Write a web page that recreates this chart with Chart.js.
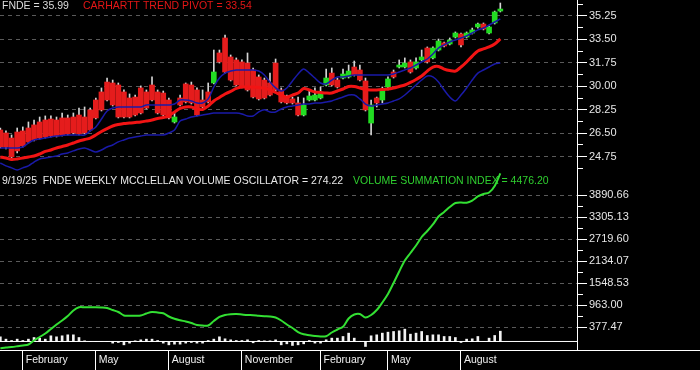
<!DOCTYPE html>
<html><head><meta charset="utf-8">
<script src="https://cdn.jsdelivr.net/npm/chart.js@4.4.1/dist/chart.umd.min.js"></script>
<style>html,body{margin:0;padding:0;background:#000}canvas{display:block}</style>
</head><body>
<canvas id="c" width="700" height="370"></canvas>
<script>
// ── weekly bars, week 0 = 5 Jan 2024 ... week 89 = 19 Sep 2025 ──
var opn=[26.74,26.52,26.14,26.59,26.67,26.89,27.12,27.34,27.49,27.56, 27.49,27.64,27.64,27.71,27.86,27.71,28.24,28.98,29.58,30.32, 30.25,30.10,29.58,29.13,29.20,29.88,29.58,30.10,29.58,29.50,
 28.98,27.34,29.13,30.18,30.10,29.73,28.98,29.58,30.25,32.49, 33.61,32.19,31.97,31.82,31.74,31.22,30.70,30.47,30.25,31.74, 29.73,29.20,29.06,28.76,27.86,28.98,28.98,29.13,30.10,30.99,
 30.47,30.62,30.70,31.44,31.22,30.40,27.26,29.13,28.98,29.95, 31.07,31.44,31.44,31.82,31.37,31.97,32.86,32.12,32.71,33.24, 33.16,33.68,33.91,33.68,33.98,34.43,34.65,33.98,34.73,35.62];
var hi=[26.89,26.67,26.37,26.89,26.97,27.34,27.49,27.71,27.79,27.79, 27.71,28.01,27.86,28.01,28.38,28.46,28.38,29.13,29.88,30.62, 30.47,30.25,29.73,29.43,29.35,30.03,29.73,30.70,29.73,29.65,
 29.13,28.01,29.35,30.25,30.32,29.88,29.73,30.25,32.71,32.71, 33.83,32.34,32.12,31.97,32.49,31.37,30.85,30.62,30.99,32.04, 29.88,29.35,29.20,29.20,29.13,29.73,29.88,29.95,31.29,31.37,
 30.62,31.29,31.59,31.89,31.59,30.62,28.98,29.20,29.95,30.70, 31.22,31.97,32.12,31.97,32.12,32.71,32.94,32.94,33.53,33.31, 33.61,34.06,33.98,34.06,34.35,34.73,34.73,34.50,35.62,36.22];
var lo=[25.40,25.32,24.50,25.03,25.47,25.77,25.92,26.07,26.14,26.22, 26.22,26.29,26.37,26.44,26.37,26.44,26.67,27.56,28.16,28.91, 28.53,27.64,27.64,27.64,27.79,27.94,28.31,28.91,27.94,27.79,
 27.56,27.26,28.53,28.76,28.68,27.79,28.38,28.76,30.18,31.74, 30.99,30.40,30.03,29.88,29.65,29.13,28.98,29.06,29.28,29.65, 28.76,28.68,28.68,27.79,27.79,28.91,28.91,29.06,30.03,30.03,
 29.88,30.55,30.62,30.77,30.40,28.16,26.37,28.46,28.76,29.73, 30.62,31.37,31.37,30.99,31.29,31.89,31.74,32.04,32.64,32.94, 33.09,33.61,32.94,33.61,33.91,34.35,34.21,33.91,34.65,35.55];
var cls=[25.47,25.47,24.73,25.18,25.55,25.85,26.00,26.14,26.22,26.29, 26.29,26.37,26.44,26.52,26.44,26.52,26.74,27.64,28.24,28.98, 28.61,27.71,27.71,27.71,27.86,28.01,28.38,28.98,28.01,27.86,
 27.64,27.71,28.61,28.83,28.76,27.86,28.46,28.83,31.07,31.82, 31.07,30.47,30.10,29.95,29.73,29.20,29.06,29.13,29.35,29.73, 28.83,28.76,28.76,27.86,28.61,29.28,29.35,29.50,30.62,30.10,
 29.95,30.92,31.14,30.85,30.47,28.24,28.61,28.76,29.73,30.55, 30.70,31.59,31.74,31.07,31.82,32.19,31.82,32.86,33.38,33.01, 33.46,33.98,33.09,33.98,34.21,34.65,34.28,34.43,35.55,35.77];
var pivot=[24.73,24.65,24.54,24.58,24.65,24.73,24.80,24.95,25.14,25.25, 25.40,25.51,25.62,25.77,25.92,26.03,26.14,26.37,26.63,26.85, 27.04,27.15,27.23,27.26,27.30,27.34,27.41,27.49,27.60,27.67,
 27.82,28.08,28.35,28.46,28.46,28.31,28.27,28.53,28.91,29.17, 29.43,29.62,29.84,29.95,29.95,29.95,29.91,29.88,29.73,29.54, 29.35,29.20,29.35,29.50,29.84,29.73,29.58,29.54,29.50,29.50,
 29.65,29.80,29.99,29.99,29.88,29.76,29.73,29.73,29.76,29.80, 29.88,29.99,30.10,30.29,30.51,30.77,31.14,31.44,31.48,31.29, 31.18,31.14,31.44,31.82,32.26,32.64,32.79,32.94,33.16,33.54];
var bandHi=[25.40,25.40,25.40,25.40,25.47,25.77,26.00,26.07,26.14,26.22, 26.29,26.33,26.37,26.37,26.37,26.37,26.67,26.97,27.56,28.16, 28.38,28.46,28.46,28.46,28.46,28.46,28.61,28.61,28.61,28.61,
 28.61,28.68,28.98,28.98,28.91,28.76,28.76,29.06,29.95,30.62, 30.99,31.14,31.22,31.22,31.22,31.22,31.14,30.85,30.32,29.88, 29.65,29.88,30.40,30.92,31.29,30.99,30.62,30.25,30.18,30.47,
 30.70,30.70,30.77,30.85,30.85,30.85,30.85,30.85,30.85,30.85, 30.92,31.07,31.22,31.37,31.59,31.82,32.04,32.41,32.86,33.09, 33.31,33.46,33.61,33.76,33.98,34.21,34.35,34.58,34.80,35.03];
var bandLo=[24.28,24.06,23.91,23.76,23.91,24.06,24.35,24.58,24.65,24.73, 24.80,24.95,25.03,25.18,25.32,25.40,25.25,25.10,25.25,25.47, 25.62,25.85,26.00,26.14,26.22,26.29,26.37,26.37,26.37,26.37,
 26.52,26.74,27.41,27.56,27.71,27.79,27.86,27.94,28.01,28.01, 28.01,28.01,28.01,27.94,27.79,27.79,28.09,28.25,28.09,28.09, 28.31,28.46,28.53,28.61,28.68,28.68,28.76,28.76,28.83,28.91,
 29.06,29.20,29.35,29.35,29.06,28.68,28.53,28.61,28.68,28.76, 28.91,29.06,29.35,29.73,30.10,30.47,30.77,30.70,30.32,29.73, 29.20,28.91,29.35,29.88,30.47,30.99,31.22,31.44,31.67,31.74];
var vsi=[-181,-160,-147,-128,-107,-80,26,119,213,332, 452,559,678,825,910,910,910,910,905,891, 838,785,692,686,686,692,745,785,771,750,
 665,604,564,532,492,439,425,425,545,652, 705,726,732,718,705,700,684,673,665,638, 559,452,359,252,191,167,146,133,141,239,
 319,393,612,718,732,638,705,838,1038,1264, 1557,1863,2155,2355,2555,2781,2941,3114,3326,3446, 3579,3686,3699,3694,3752,3859,3925,3965,4138,4476];
var osc=[124,62,27,62,27,62,106,89,62,151, 124,151,177,177,106,18,4,-3,2,-4, -44,-27,-89,-44,18,44,62,62,27,-44,
 -89,-71,-71,-44,-27,-44,-44,27,62,124, 71,44,27,27,44,-35,27,18,18,44, -89,-62,-106,-89,-62,27,-44,-44,44,89,
 89,133,222,89,5,-133,151,177,222,248, 266,284,328,195,222,266,160,177,177,133, 133,106,-27,62,71,133,0,89,160,274];

var monthWeeks=[4,17,30,43,57,69,82];
var monthNames=['February','May','August','November','February','May','August'];
var priceTicks=[24.75,26.50,28.25,30.00,31.75,33.50,35.25];
var volTicks=[377.47,963.00,1548.53,2134.07,2719.60,3305.13,3890.66];

var F='"Liberation Sans", Arial, sans-serif';
var wk=opn.map(function(v,i){return i;});
function pts(arr){return arr.map(function(v,i){return{x:i,y:v};});}
function isMaj(list,v){for(var k=0;k<list.length;k++){if(Math.abs(list[k]-v)<1e-6)return true;}return false;}
function withMinors(maj,outer){
  var t=maj.slice(),st=maj[1]-maj[0];
  for(var k=0;k<maj.length-1;k++)t.push((maj[k]+maj[k+1])/2);
  if(outer){t.push(maj[0]-st/2);t.push(maj[maj.length-1]+st/2);}
  return t.sort(function(a,b){return a-b;});
}
var pAll=withMinors(priceTicks,true),vAll=withMinors(volTicks,false);

function noPad(a){a.paddingTop=0;a.paddingBottom=0;a.paddingLeft=0;a.paddingRight=0;}
function rAxis(maj,all,mn,mx,wt){
  return{type:'linear',position:'right',stack:'main',stackWeight:wt,min:mn,max:mx,
    afterBuildTicks:function(a){a.ticks=all.map(function(v){return{value:v};});},
    afterFit:function(a){a.width=123;noPad(a);},
    ticks:{autoSkip:false,padding:2,color:'#e6e6e6',font:{family:F,size:11},
      callback:function(v){return isMaj(maj,v)?v.toFixed(2):'';}},
    grid:{color:function(c){return c.tick&&isMaj(maj,c.tick.value)?'#5a5a5a':'rgba(0,0,0,0)';},
      tickColor:'#ffffff',tickLength:10,
      tickBorderDash:function(c){return c.tick&&isMaj(maj,c.tick.value)?[]:[5,40];}},
    border:{display:true,color:'#ffffff',dash:[4,4]}};
}

var heads={id:'heads',
  beforeDatasetsDraw:function(ch){
    var c=ch.ctx;c.save();c.font='10.5px '+F;c.textBaseline='middle';
    function t(s,x,y,col){c.fillStyle=col;c.fillText(s,x,y);}
    t('FNDE = 35.99',2,6,'#dcdcdc');
    t('CARHARTT TREND PIVOT = 33.54',83,6,'#e41616');
    t('9/19/25  FNDE WEEKLY MCCLELLAN VOLUME OSCILLATOR = 274.22',2,181,'#e8e8e8');
    t('VOLUME SUMMATION INDEX = 4476.20',353,181,'#2fcf2f');
    c.restore();
  },
  afterDraw:function(ch){
    var c=ch.ctx,y=Math.round(ch.chartArea.bottom)+0.5;
    c.save();c.strokeStyle='#fff';c.lineWidth=1;c.beginPath();c.moveTo(0,y);c.lineTo(ch.width,y);c.stroke();c.restore();
  }};

new Chart(document.getElementById('c'),{
  type:'bar',
  data:{datasets:[
    {type:'bar',label:'wick',data:wk.map(function(i){return{x:i,y:[lo[i],hi[i]]};}),yAxisID:'yP',
     backgroundColor:'#d4d4d4',barThickness:1,grouped:false,order:6},
    {type:'bar',label:'body',data:wk.map(function(i){return{x:i,y:[opn[i],cls[i]]};}),yAxisID:'yP',
     backgroundColor:function(c){var i=c.dataIndex;return cls[i]>=opn[i]?'#22dc22':'#e51c1c';},
     barThickness:5,grouped:false,order:5},
    {type:'line',label:'band hi',data:pts(bandHi),yAxisID:'yP',borderColor:'#1a1aa8',borderWidth:1.5,pointRadius:0,tension:0.3,order:3},
    {type:'line',label:'band lo',data:pts(bandLo),yAxisID:'yP',borderColor:'#1a1aa8',borderWidth:1.5,pointRadius:0,tension:0.3,order:3},
    {type:'line',label:'pivot',data:pts(pivot),yAxisID:'yP',borderColor:'#f21414',borderWidth:3,pointRadius:0,tension:0.3,order:2},
    {type:'bar',label:'osc',data:pts(osc),yAxisID:'yV',backgroundColor:'#f2f2f2',barThickness:2,grouped:false,order:5},
    {type:'line',label:'zero',data:[{x:-1,y:0},{x:110,y:0}],yAxisID:'yV',borderColor:'#ffffff',borderWidth:1,pointRadius:0,order:1},
    {type:'line',label:'vsi',data:pts(vsi),yAxisID:'yV',borderColor:'#33e033',borderWidth:2,pointRadius:0,tension:0.3,order:0}
  ]},
  options:{responsive:false,animation:false,layout:{padding:0},
    plugins:{legend:{display:false},tooltip:{enabled:false}},
    scales:{
      x:{type:'linear',min:-0.06,max:102.65,offset:false,
        afterBuildTicks:function(a){a.ticks=monthWeeks.map(function(v){return{value:v};});},
        afterFit:function(a){a.height=20;noPad(a);},
        ticks:{autoSkip:false,maxRotation:0,align:'start',padding:-16,color:'#f0f0f0',font:{family:F,size:10.5},
          callback:function(v,i){return ' '+monthNames[i];}},
        grid:{drawOnChartArea:false,offset:false,color:'#ffffff',tickLength:20},
        border:{display:true,color:'#ffffff'}},
      yP:rAxis(priceTicks,pAll,23.68,36.444,171),
      yV:rAxis(volTicks,vAll,-226.7,4537.4,179)
    }},
  plugins:[heads]
});
</script>
</body></html>
